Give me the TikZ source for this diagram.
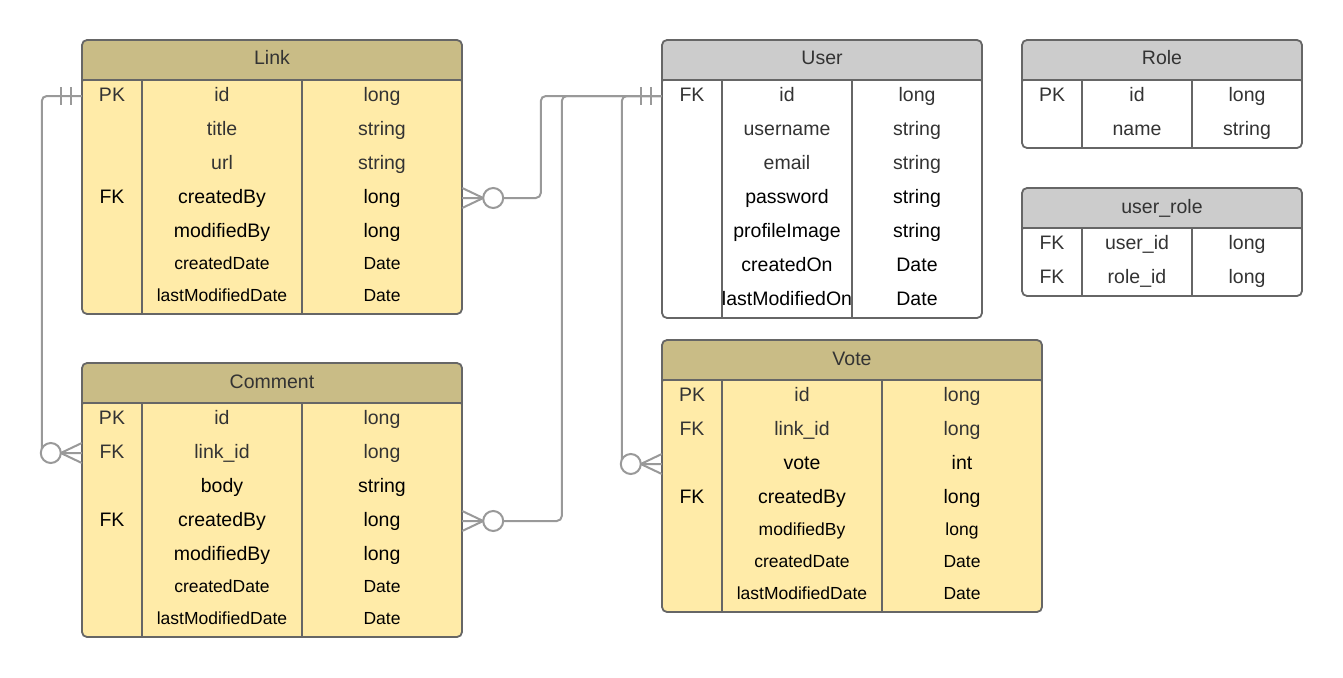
\documentclass[tikz,border=0pt]{standalone}
\usepackage{fontspec}
\setmainfont{Liberation Sans}
\usetikzlibrary{calc}

\definecolor{hdrtan}{HTML}{C9BC86}
\definecolor{bodyyel}{HTML}{FFEBA8}
\definecolor{hdrgray}{HTML}{CCCCCC}
\definecolor{bordergray}{HTML}{666666}
\definecolor{conngray}{HTML}{999999}
\definecolor{txtgray}{HTML}{333333}

% table frame: left, top, right, bottom, column 1, column 2, header colour, body colour
\newcommand{\erbox}[8]{%
  \fill[#7, rounded corners=5pt] (#1,#2) rectangle (#3,#2+50);
  \fill[#8, rounded corners=5pt] (#1,#2+40) rectangle (#3,#4);
  \draw[border] (#1,#2+40) -- (#3,#2+40);
  \draw[border] (#5,#2+40) -- (#5,#4);
  \draw[border] (#6,#2+40) -- (#6,#4);
  \draw[border, rounded corners=5pt] (#1,#2) rectangle (#3,#4);
}
% crow's foot with circle (zero or many), #2 = 1 right side, -1 left side
\newcommand{\ermany}[2]{%
  \draw[conn] ($(#1)+(0,-10)$) -- ($(#1)+(#2*21,0)$) -- ($(#1)+(0,10)$);
  \draw[conn, fill=white] ($(#1)+(#2*31,0)$) circle[radius=10pt];
}
% two bars (exactly one)
\newcommand{\erone}[2]{%
  \draw[conn] ($(#1)+(#2*11,-9)$) -- ++(0,18);
  \draw[conn] ($(#1)+(#2*21,-9)$) -- ++(0,18);
}

\begin{document}
\begin{tikzpicture}[x=1pt,y=-1pt]

\tikzstyle{border}=[draw=bordergray,line width=1.8pt]
\tikzstyle{conn}=[draw=conngray,line width=2pt]
\tikzstyle{cell}=[inner sep=0pt,text height=14pt,text depth=4pt,text=txtgray,font=\fontsize{19.5}{22}\selectfont]
\tikzstyle{cellb}=[cell,text=black]
\tikzstyle{small}=[cellb,text height=13pt,font=\fontsize{17.5}{20}\selectfont]
\tikzstyle{key}=[minimum width=60pt]
\tikzstyle{wide}=[minimum width=160pt]

\useasboundingbox (0,0) rectangle (1343,677);

%Link
\erbox{82}{40}{462}{314}{142}{302}{hdrtan}{bodyyel}
\node[cell] (link) at (272,60) {Link};
\node[cell,key] (lk1) at (112,96) {PK};
\node[cell] (ln1) at (222,96) {id};
\node[cell] (lt1) at (382,96) {long};
\node[cell] (ln2) at (222,130) {title};
\node[cell] (lt2) at (382,130) {string};
\node[cell] (ln3) at (222,164) {url};
\node[cell] (lt3) at (382,164) {string};
\node[cellb,key] (lk4) at (112,198) {FK};
\node[cellb] (ln4) at (222,198) {createdBy};
\node[cellb,wide] (lt4) at (382,198) {long};
\node[cellb] (ln5) at (222,232) {modifiedBy};
\node[cellb] (lt5) at (382,232) {long};
\node[small] (ln6) at (222,265) {createdDate};
\node[small] (lt6) at (382,265) {Date};
\node[small] (ln7) at (222,297) {lastModifiedDate};
\node[small] (lt7) at (382,297) {Date};

%Comment
\erbox{82}{363}{462}{637}{142}{302}{hdrtan}{bodyyel}
\node[cell] (cmt) at (272,383) {Comment};
\node[cell,key] (ck1) at (112,419) {PK};
\node[cell] (cn1) at (222,419) {id};
\node[cell] (ct1) at (382,419) {long};
\node[cell,key] (ck2) at (112,453) {FK};
\node[cell] (cn2) at (222,453) {link\_id};
\node[cell] (ct2) at (382,453) {long};
\node[cellb] (cn3) at (222,487) {body};
\node[cellb] (ct3) at (382,487) {string};
\node[cellb,key] (ck4) at (112,521) {FK};
\node[cellb] (cn4) at (222,521) {createdBy};
\node[cellb,wide] (ct4) at (382,521) {long};
\node[cellb] (cn5) at (222,555) {modifiedBy};
\node[cellb] (ct5) at (382,555) {long};
\node[small] (cn6) at (222,588) {createdDate};
\node[small] (ct6) at (382,588) {Date};
\node[small] (cn7) at (222,620) {lastModifiedDate};
\node[small] (ct7) at (382,620) {Date};

%User
\erbox{662}{40}{982}{318}{722}{852}{hdrgray}{white}
\node[cell] (user) at (822,60) {User};
\node[cell,key] (uk1) at (692,96) {FK};
\node[cell] (un1) at (787,96) {id};
\node[cell] (ut1) at (917,96) {long};
\node[cell] (un2) at (787,130) {username};
\node[cell] (ut2) at (917,130) {string};
\node[cell] (un3) at (787,164) {email};
\node[cell] (ut3) at (917,164) {string};
\node[cellb] (un4) at (787,198) {password};
\node[cellb] (ut4) at (917,198) {string};
\node[cellb] (un5) at (787,232) {profileImage};
\node[cellb] (ut5) at (917,232) {string};
\node[cellb] (un6) at (787,266) {createdOn};
\node[cellb] (ut6) at (917,266) {Date};
\node[cellb] (un7) at (787,300) {lastModifiedOn};
\node[cellb] (ut7) at (917,300) {Date};

%Role
\erbox{1022}{40}{1302}{148}{1082}{1192}{hdrgray}{white}
\node[cell] (role) at (1162,60) {Role};
\node[cell] (rk1) at (1052,96) {PK};
\node[cell] (rn1) at (1137,96) {id};
\node[cell] (rt1) at (1247,96) {long};
\node[cell] (rn2) at (1137,130) {name};
\node[cell] (rt2) at (1247,130) {string};

%user_role
\erbox{1022}{188}{1302}{296}{1082}{1192}{hdrgray}{white}
\node[cell] (urole) at (1162,208) {user\_role};
\node[cell] (urk1) at (1052,244) {FK};
\node[cell] (urn1) at (1137,244) {user\_id};
\node[cell] (urt1) at (1247,244) {long};
\node[cell] (urk2) at (1052,278) {FK};
\node[cell] (urn2) at (1137,278) {role\_id};
\node[cell] (urt2) at (1247,278) {long};

%Vote
\erbox{662}{340}{1042}{612}{722}{882}{hdrtan}{bodyyel}
\node[cell] (vote) at (852,360) {Vote};
\node[cell,key] (vk1) at (692,396) {PK};
\node[cell] (vn1) at (802,396) {id};
\node[cell] (vt1) at (962,396) {long};
\node[cell,key] (vk2) at (692,430) {FK};
\node[cell] (vn2) at (802,430) {link\_id};
\node[cell] (vt2) at (962,430) {long};
\node[cellb,key] (vk3) at (692,464) {};
\node[cellb] (vn3) at (802,464) {vote};
\node[cellb] (vt3) at (962,464) {int};
\node[cellb,key] (vk4) at (692,498) {FK};
\node[cellb] (vn4) at (802,498) {createdBy};
\node[cellb] (vt4) at (962,498) {long};
\node[small] (vn5) at (802,531) {modifiedBy};
\node[small] (vt5) at (962,531) {long};
\node[small] (vn6) at (802,563) {createdDate};
\node[small] (vt6) at (962,563) {Date};
\node[small] (vn7) at (802,595) {lastModifiedDate};
\node[small] (vt7) at (962,595) {Date};

%connections
\draw[conn,rounded corners=5pt] (lk1.west) -- ++(-40,0) |- (ck2.west);
\draw[conn,rounded corners=5pt] (uk1.west) -- ++(-121,0) |- (lt4.east);
\draw[conn,rounded corners=5pt] (uk1.west) -- ++(-100,0) |- (ct4.east);
\draw[conn,rounded corners=5pt] (uk1.west) -- ++(-40,0) |- (vk3.west);

\erone{lk1.west}{-1}
\erone{uk1.west}{-1}
\ermany{ck2.west}{-1}
\ermany{lt4.east}{1}
\ermany{ct4.east}{1}
\ermany{vk3.west}{-1}

\end{tikzpicture}
\end{document}
